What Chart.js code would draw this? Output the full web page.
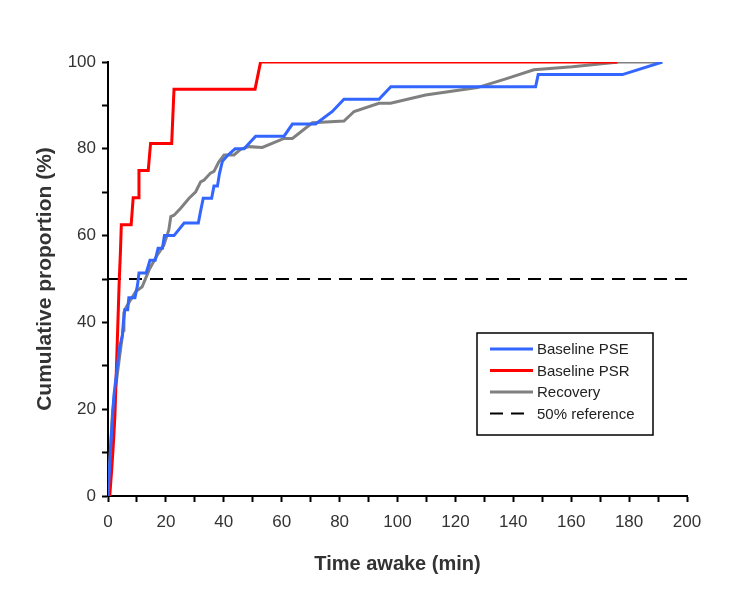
<!DOCTYPE html>
<html>
<head>
<meta charset="utf-8">
<script src="https://cdn.jsdelivr.net/npm/chart.js@4"></script>
<style>
  html, body { margin: 0; padding: 0; background: #fff; }
  #wrap { width: 755px; height: 592px; }
</style>
</head>
<body>
<div id="wrap"><canvas id="chart" width="755" height="592"></canvas></div>
<script>
// values (minutes, cumulative %)
const pseTime = [0, 0.5, 1.2, 2, 3, 4, 5, 5.3, 5.8, 6.8, 7.2, 9.3, 10.2, 10.7, 13.2, 14.5, 16.3, 17.3, 18.8, 19.5, 22.8, 26.3, 31.2, 32, 32.9, 35.8, 36.6, 37.8, 38.5, 39.5, 41.2, 43.9, 47, 51, 60.8, 63.7, 71.7, 77.5, 81.5, 93.6, 97.7, 147.7, 148.6, 177.7, 191.5];
const psePct = [0, 5.7, 14.3, 22.9, 28.6, 34.3, 37.1, 40, 42.9, 42.9, 45.7, 45.7, 48.6, 51.4, 51.4, 54.3, 54.3, 57.1, 57.1, 60, 60, 62.9, 62.9, 65.7, 68.6, 68.6, 71.4, 71.4, 74.3, 77.1, 78.4, 80, 80, 82.9, 82.9, 85.7, 85.7, 88.6, 91.4, 91.4, 94.3, 94.3, 97.1, 97.1, 100];

const psrTime = [0.6, 1.3, 1.9, 2.4, 2.7, 3.0, 3.3, 3.6, 3.9, 4.3, 4.6, 8.0, 8.7, 10.4, 10.7, 13.9, 14.7, 22.0, 22.8, 50.8, 52.7, 176];
const psrPct = [0, 6.25, 12.5, 18.75, 25, 31.25, 37.5, 43.75, 50, 56.25, 62.5, 62.5, 68.75, 68.75, 75, 75, 81.25, 81.25, 93.75, 93.75, 100, 100];

const recTime = [0, 0.3, 1.6, 3.4, 5.2, 5.5, 6.1, 7.8, 9.6, 11.8, 14.2, 17, 19.3, 21, 21.7, 22.8, 25.1, 28, 30.3, 32, 33.2, 35.4, 36.6, 38.3, 40.1, 43.5, 45.8, 48.7, 53.3, 60.8, 63.7, 70.6, 81.5, 85, 93.6, 97.6, 109.7, 127.6, 137.4, 147.1, 160.4, 176.5, 191.4];
const recPct = [0, 4.4, 19.6, 29, 38.2, 42.2, 43.3, 45.2, 47.1, 48.2, 52.1, 55.5, 57.8, 61.3, 64.4, 64.7, 66.3, 68.6, 70.1, 72.4, 72.8, 74.4, 74.8, 77, 78.6, 78.6, 79.9, 80.5, 80.3, 82.4, 82.4, 86, 86.4, 88.6, 90.5, 90.5, 92.4, 94.1, 96.1, 98.2, 98.9, 100, 100];

const refTime = [0, 200];
const refPct = [50, 50];

const seriesLabels = ["Baseline PSE", "Baseline PSR", "Recovery", "50% reference"];

const FONT = "'Liberation Sans', Arial, sans-serif";

function toPoints(xs, ys) {
  return xs.map((x, i) => ({ x: x, y: ys[i] }));
}

function toDataset(label, color, points, opts) {
  return {
    label: label,
    data: points,
    borderColor: color,
    backgroundColor: color,
    borderWidth: 3,
    pointRadius: 0,
    tension: 0,
    fill: false,
    ...opts,
  };
}

// legend box drawn inside the plot, bottom right
const boxLegend = {
  id: "boxLegend",
  afterDatasetsDraw(chart) {
    const ctx = chart.ctx;
    const left = 477, top = 333, width = 176, height = 102;
    ctx.save();
    ctx.fillStyle = "#fff";
    ctx.fillRect(left, top, width, height);
    ctx.strokeStyle = "#000";
    ctx.lineWidth = 1.5;
    ctx.strokeRect(left, top, width, height);
    ctx.font = "15px " + FONT;
    ctx.textBaseline = "middle";
    ctx.fillStyle = "#222";
    chart.data.datasets.forEach((ds, i) => {
      const y = top + 16 + i * 21.5;
      const dashed = !!ds.borderDash;
      ctx.beginPath();
      ctx.strokeStyle = ds.borderColor;
      ctx.lineWidth = ds.borderWidth;
      ctx.setLineDash(ds.borderDash || []);
      ctx.moveTo(490, y);
      ctx.lineTo(dashed ? 524 : 533, y);
      ctx.stroke();
      ctx.setLineDash([]);
      ctx.fillText(ds.label, 537, y + 1);
    });
    ctx.restore();
  },
};

new Chart(document.getElementById("chart"), {
  type: "line",
  data: {
    datasets: [
      toDataset(seriesLabels[0], "#3366ff", toPoints(pseTime, psePct)),
      toDataset(seriesLabels[1], "#ff0000", toPoints(psrTime, psrPct)),
      toDataset(seriesLabels[2], "#808080", toPoints(recTime, recPct)),
      toDataset(seriesLabels[3], "#000000", toPoints(refTime, refPct), {
        borderWidth: 2,
        borderDash: [13, 8],
      }),
    ],
  },
  options: {
    responsive: false,
    animation: false,
    layout: { padding: { left: 0, top: 62, right: 68, bottom: 0 } },
    plugins: {
      legend: { display: false },
      tooltip: { enabled: false },
    },
    scales: {
      x: {
        type: "linear",
        min: 0,
        max: 200,
        afterFit: (scale) => { scale.height = 96; },
        border: { color: "#000", width: 2 },
        grid: {
          drawOnChartArea: false,
          drawTicks: true,
          tickLength: 6,
          tickWidth: 2,
          tickColor: "#000",
        },
        ticks: {
          stepSize: 10,
          autoSkip: false,
          maxRotation: 0,
          padding: 10,
          color: "#333",
          font: { family: FONT, size: 17 },
          callback: (v) => (v % 20 === 0 ? v : ""),
        },
        title: {
          display: true,
          text: "Time awake (min)",
          color: "#333",
          font: { family: FONT, size: 20, weight: "bold" },
          padding: { top: 0, bottom: 16 },
        },
      },
      y: {
        min: 0,
        max: 100,
        afterFit: (scale) => { scale.width = 108; },
        border: { color: "#000", width: 2 },
        grid: {
          drawOnChartArea: false,
          drawTicks: true,
          tickLength: 6,
          tickWidth: 2,
          tickColor: "#000",
        },
        ticks: {
          stepSize: 10,
          autoSkip: false,
          padding: 6,
          color: "#333",
          font: { family: FONT, size: 17 },
          callback: (v) => (v % 20 === 0 ? v : ""),
        },
        title: {
          display: true,
          text: "Cumulative proportion (%)",
          color: "#333",
          font: { family: FONT, size: 21, weight: "bold" },
          padding: { top: 33, bottom: 0 },
        },
      },
    },
  },
  plugins: [boxLegend],
});
</script>
</body>
</html>
